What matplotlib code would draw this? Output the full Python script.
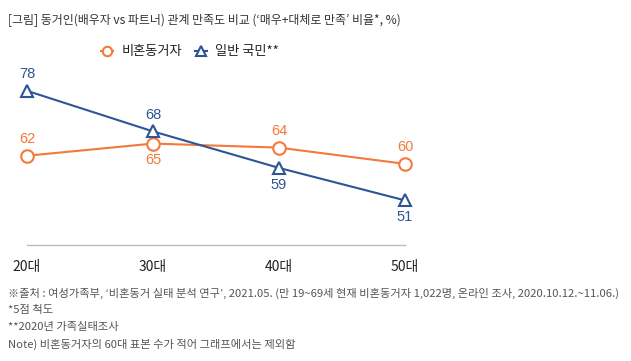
import matplotlib
matplotlib.use("Agg")
import matplotlib.pyplot as plt

plt.rcParams['font.family'] = ['Noto Sans CJK KR', 'DejaVu Sans']

categories = ['20대', '30대', '40대', '50대']
unmarried = [62, 65, 64, 60]
general = [78, 68, 59, 51]
series_names = ['비혼동거자', '일반 국민**']
title = "[그림] 동거인(배우자 vs 파트너) 관계 만족도 비교 (‘매우+대체로 만족’ 비율*, %)"
notes = [
    "※출처 : 여성가족부, ‘비혼동거 실태 분석 연구’, 2021.05. (만 19~69세 현재 비혼동거자 1,022명, 온라인 조사, 2020.10.12.~11.06.)",
    "*5점 척도",
    "**2020년 가족실태조사",
    "Note) 비혼동거자의 60대 표본 수가 적어 그래프에서는 제외함",
]

ORANGE = '#F5793A'
BLUE = '#2E5597'

W, H = 631, 361
fig = plt.figure(figsize=(W / 100, H / 100), dpi=100)

# axes: x from pixel 27 to 405, y from 60 to 245
ax = fig.add_axes([27 / W, 1 - 245 / H, (405 - 27) / W, (245 - 60) / H])
x = list(range(len(categories)))
ax.set_xlim(0, len(categories) - 1)
ax.set_ylim(40.0, 85.6)

ax.plot(x, unmarried, color=ORANGE, lw=1.5, marker='o', ms=9, mfc='white',
        mec=ORANGE, mew=1.5, clip_on=False, zorder=3, label=series_names[0])
ax.plot(x, general, color=BLUE, lw=1.5, marker='^', ms=9, mfc='white',
        mec=BLUE, mew=1.5, clip_on=False, zorder=3, label=series_names[1])

off = 7
for i, (u, g) in enumerate(zip(unmarried, general)):
    up_u = (u >= g) or i == 0
    ax.annotate(str(u), (i, u), xytext=(0, off if up_u else -off),
                textcoords='offset points', ha='center',
                va='bottom' if up_u else 'top',
                color=ORANGE, fontsize=10.5, family=['Liberation Sans'])
    up_g = g > u
    ax.annotate(str(g), (i, g), xytext=(0, off if up_g else -off),
                textcoords='offset points', ha='center',
                va='bottom' if up_g else 'top',
                color=BLUE, fontsize=10.5, family=['Liberation Sans'])

for s in ['top', 'right', 'left']:
    ax.spines[s].set_visible(False)
ax.spines['bottom'].set_color('#BBBBBB')
ax.spines['bottom'].set_linewidth(1.0)
ax.set_yticks([])
ax.set_xticks(x)
ax.set_xticklabels(categories, fontsize=10, color='#222222')
ax.tick_params(axis='x', length=0, pad=11)
ax.set_facecolor('none')

fig.text(8 / W, 1 - 20 / H, title, fontsize=8.6, color='#333333', va='center', ha='left')

leg = fig.legend(loc='center', bbox_to_anchor=(190 / W, 1 - 52 / H), ncol=2, frameon=False,
                 fontsize=9.5, handlelength=0.9, columnspacing=1.0, handletextpad=0.6,
                 markerscale=0.75)
for t in leg.get_texts():
    t.set_color('#222222')

for k, n in enumerate(notes):
    fig.text(8 / W, 1 - (293 + 17 * k) / H, n, fontsize=8.1, color='#555555', va='center', ha='left')

fig.savefig('out.png', dpi=100)
